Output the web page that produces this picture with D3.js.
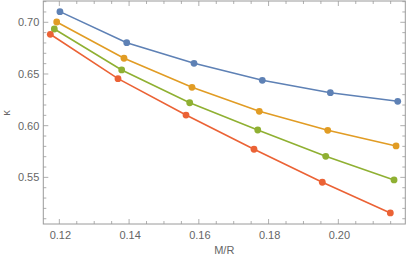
<!DOCTYPE html>
<html><head><meta charset="utf-8">
<script src="https://cdn.jsdelivr.net/npm/d3@7"></script>
<style>body{margin:0;background:#fff}svg{display:block}text{font-family:"Liberation Sans",Arial,sans-serif}</style>
</head><body><svg id="c" width="407" height="258"></svg>
<script>
const seriesNames = ["s1","s2","s3","s4"];
const colors = ["#5E81B5","#E19C24","#8FB032","#EB6235"];
const xBlue   = [0.12017,0.13932,0.15862,0.17820,0.19771,0.21703];
const yBlue   = [0.7103,0.6803,0.6603,0.6439,0.6319,0.6236];
const xOrange = [0.11924,0.13854,0.15804,0.17734,0.19696,0.21655];
const yOrange = [0.7003,0.6652,0.6371,0.6139,0.5955,0.5804];
const xGreen  = [0.11856,0.13788,0.15738,0.17689,0.19639,0.21597];
const yGreen  = [0.6935,0.6539,0.6222,0.5958,0.5704,0.5475];
const xRed    = [0.11741,0.13682,0.15632,0.17582,0.19541,0.21491];
const yRed    = [0.6884,0.6455,0.6103,0.5772,0.5453,0.5156];
const xTicks = [0.12,0.14,0.16,0.18,0.20];
const xTickLabels = ["0.12","0.14","0.16","0.18","0.20"];
const yTicks = [0.55,0.60,0.65,0.70];
const yTickLabels = ["0.55","0.60","0.65","0.70"];
const xLabel = "M/R", yLabel = "κ";

const series = [[xBlue,yBlue],[xOrange,yOrange],[xGreen,yGreen],[xRed,yRed]];
const L=43.3, R=405.3, T=1, B=224;
const x = d3.scaleLinear().domain([0.1154,0.2192]).range([L,R]);
const y = d3.scaleLinear().domain([0.5049,0.7206]).range([B,T]);
const svg = d3.select("#c");
const frameCol = "#9a9a9a", textCol = "#666";

svg.append("rect").attr("x",L).attr("y",T).attr("width",R-L).attr("height",B-T)
  .attr("fill","none").attr("stroke",frameCol).attr("stroke-width",1);

const xMinor = d3.range(0.115,0.2201,0.005).filter(v=>v>=0.1154&&v<=0.2192);
const yMinor = d3.range(0.51,0.7201,0.01).filter(v=>v>=0.5049&&v<=0.7206);
const g = svg.append("g").attr("stroke",frameCol).attr("stroke-width",0.8);
xMinor.forEach(v=>{
  const major = xTicks.some(t=>Math.abs(t-v)<1e-6);
  const len = major?5:3;
  g.append("line").attr("x1",x(v)).attr("x2",x(v)).attr("y1",B).attr("y2",B-len);
  g.append("line").attr("x1",x(v)).attr("x2",x(v)).attr("y1",T).attr("y2",T+len);
});
yMinor.forEach(v=>{
  const major = yTicks.some(t=>Math.abs(t-v)<1e-6);
  const len = major?5:3;
  g.append("line").attr("y1",y(v)).attr("y2",y(v)).attr("x1",L).attr("x2",L+len);
  g.append("line").attr("y1",y(v)).attr("y2",y(v)).attr("x1",R).attr("x2",R-len);
});
xTicks.forEach((v,i)=>{
  svg.append("text").attr("x",x(v)+1).attr("y",B+15).attr("text-anchor","middle")
    .attr("font-size",11).attr("fill",textCol).text(xTickLabels[i]);
});
yTicks.forEach((v,i)=>{
  svg.append("text").attr("x",L-4).attr("y",y(v)+4).attr("text-anchor","end")
    .attr("font-size",11).attr("fill",textCol).text(yTickLabels[i]);
});
svg.append("text").attr("x",(L+R)/2).attr("y",254).attr("text-anchor","middle")
  .attr("font-size",11).attr("fill",textCol).text(xLabel);
svg.append("text").attr("transform","translate(10,113) rotate(-90)").attr("text-anchor","middle")
  .attr("font-size",11).attr("fill",textCol).text(yLabel);

const line = d3.line().x(d=>x(d[0])).y(d=>y(d[1]));
series.forEach((s,i)=>{
  const pts = s[0].map((v,j)=>[v,s[1][j]]);
  svg.append("path").attr("d",line(pts)).attr("fill","none").attr("stroke",colors[i]).attr("stroke-width",1.6);
  svg.selectAll(null).data(pts).enter().append("circle")
    .attr("cx",d=>x(d[0])).attr("cy",d=>y(d[1])).attr("r",3.4).attr("fill",colors[i]);
});
</script></body></html>
